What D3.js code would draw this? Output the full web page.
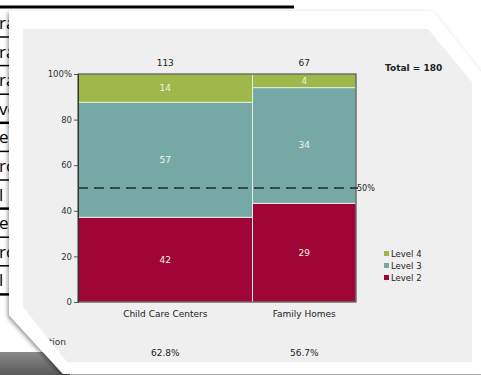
<!DOCTYPE html>
<meta charset="utf-8">
<head>
    <script src="https://d3js.org/d3.v7.min.js"></script>
</head>
<body style="margin:0; background:#fff;">
    <div id="svg_div"></div>
</body>
<script>
    // chart values
    var categories = ["Child Care Centers", "Family Homes"];
    var levels = ["Level 2", "Level 3", "Level 4"];
    var level2 = [42, 29];
    var level3 = [57, 34];
    var level4 = [14, 4];
    var y_ticks = [0, 20, 40, 60, 80, 100];
    var table_bits = ["ra", "ra", "ra", "ve", "ee", "ro", "l", "ee", "ro", "l"];

    var level_colors = {
        "Level 2": "#a00537",
        "Level 3": "#76a8a6",
        "Level 4": "#9cb94a",
    };

    function draw_chart() {
        let W = 481, H = 375;
        let svg = d3.select("#svg_div").append("svg")
            .attr("width", W)
            .attr("height", H)
            .style("font-family", "DejaVu Sans, Verdana, sans-serif");

        let defs = svg.append("defs");
        defs.append("filter").attr("id", "shadow")
            .attr("x", "-10%").attr("y", "-10%").attr("width", "120%").attr("height", "120%")
            .append("feDropShadow")
            .attr("dx", -1).attr("dy", 2).attr("stdDeviation", 2)
            .attr("flood-color", "#000").attr("flood-opacity", 0.45);
        let grad = defs.append("linearGradient").attr("id", "darkgrad")
            .attr("x1", 0).attr("y1", 0).attr("x2", 0).attr("y2", 1);
        grad.append("stop").attr("offset", "0%").attr("stop-color", "#8a8a8a");
        grad.append("stop").attr("offset", "100%").attr("stop-color", "#5a5a5a");

        // the table behind the card
        let bg = svg.append("g");
        bg.append("line").attr("x1", 0).attr("x2", 294).attr("y1", 7).attr("y2", 7)
            .attr("stroke", "#000").attr("stroke-width", 3);
        let row_h = 28.6;
        table_bits.forEach((t, i) => {
            let yb = 37 + i * row_h;
            bg.append("line").attr("x1", 0).attr("x2", 10).attr("y1", yb).attr("y2", yb)
                .attr("stroke", "#000").attr("stroke-width", (i == 3 || i == 6 || i == 9) ? 2.5 : 1.5);
            bg.append("text").attr("x", -1).attr("y", yb - 8)
                .attr("font-size", 17).attr("font-family", "Open Sans, sans-serif")
                .attr("fill", "#000").text(t);
        });
        bg.append("rect").attr("x", 0).attr("y", 352).attr("width", 70).attr("height", 23)
            .attr("fill", "url(#darkgrad)");

        // card
        svg.append("polygon")
            .attr("points", "9,11 433,11 484,76 484,374 63,374 9,315")
            .attr("fill", "#fff")
            .attr("filter", "url(#shadow)");

        let panel_pts = "23,29 428,29 472,82 472,362 67,362 23,307";
        svg.append("polygon").attr("points", panel_pts).attr("fill", "#efefef");
        defs.append("clipPath").attr("id", "panelclip")
            .append("polygon").attr("points", panel_pts);

        let x = d3.scaleLinear().domain([0, 180]).range([78, 356]);
        let y = d3.scaleLinear().domain([0, 100]).range([302, 74]);

        let bars = categories.map((c, i) => {
            let vals = [level2[i], level3[i], level4[i]];
            return { name: c, vals: vals, total: d3.sum(vals) };
        });
        let grand = d3.sum(bars, d => d.total);
        x.domain([0, grand]);

        let chart = svg.append("g");
        let x0 = 0;
        bars.forEach((b) => {
            let bx0 = x(x0), bx1 = x(x0 + b.total);
            let cx = (bx0 + bx1) / 2;
            let cum = 0;
            b.vals.forEach((v, k) => {
                let p0 = cum / b.total * 100, p1 = (cum + v) / b.total * 100;
                chart.append("rect")
                    .attr("x", bx0).attr("width", bx1 - bx0)
                    .attr("y", y(p1)).attr("height", y(p0) - y(p1))
                    .attr("fill", level_colors[levels[k]])
                    .attr("stroke", "#e4eee0").attr("stroke-width", 1);
                chart.append("text")
                    .attr("x", cx).attr("y", (y(p0) + y(p1)) / 2 + 3)
                    .attr("text-anchor", "middle")
                    .attr("font-size", 9).attr("fill", "#f4f4e0")
                    .text(v);
                cum += v;
            });
            // count above bar
            chart.append("text").attr("x", cx).attr("y", 66)
                .attr("text-anchor", "middle").attr("font-size", 9).attr("fill", "#222")
                .text(b.total);
            // category label
            chart.append("text").attr("x", cx).attr("y", 317)
                .attr("text-anchor", "middle").attr("font-size", 9).attr("fill", "#222")
                .text(b.name);
            // share at level 3 or above
            let share = (b.vals[1] + b.vals[2]) / b.total * 100;
            chart.append("text").attr("x", cx).attr("y", 356)
                .attr("text-anchor", "middle").attr("font-size", 9).attr("fill", "#222")
                .text(share.toFixed(1) + "%");
            x0 += b.total;
        });

        // frame
        chart.append("rect").attr("x", x(0)).attr("y", y(100))
            .attr("width", x(grand) - x(0)).attr("height", y(0) - y(100))
            .attr("fill", "none").attr("stroke", "#333").attr("stroke-width", 1);

        // y axis
        let yaxis = chart.append("g").attr("transform", "translate(" + x(0) + ",0)")
            .call(d3.axisLeft(y).tickValues(y_ticks).tickSize(4).tickPadding(2)
                .tickFormat(d => d == 100 ? "100%" : d));
        yaxis.select(".domain").attr("stroke", "#333");
        yaxis.selectAll(".tick line").attr("stroke", "#555");
        yaxis.selectAll("text").attr("font-size", 8.5).attr("fill", "#333")
            .attr("font-family", "DejaVu Sans, Verdana, sans-serif");

        // 50% line
        chart.append("line").attr("x1", x(0)).attr("x2", x(grand) + 2)
            .attr("y1", y(50)).attr("y2", y(50))
            .attr("stroke", "#3b4848").attr("stroke-width", 2)
            .attr("stroke-dasharray", "10,6");
        chart.append("text").attr("x", x(grand) + 1).attr("y", y(50) + 3)
            .attr("font-size", 8).attr("fill", "#222").text("50%");

        chart.append("text").attr("x", 385).attr("y", 71)
            .attr("font-size", 9).attr("font-weight", "bold").attr("fill", "#222")
            .text("Total = " + grand);

        // legend
        let legend = chart.append("g").attr("transform", "translate(384,251)");
        levels.slice().reverse().forEach((l, i) => {
            legend.append("rect").attr("x", 0).attr("y", i * 12)
                .attr("width", 5).attr("height", 5).attr("fill", level_colors[l]);
            legend.append("text").attr("x", 7).attr("y", i * 12 + 6)
                .attr("font-size", 8.5).attr("fill", "#222").text(l);
        });

        // row label cut by the panel corner
        chart.append("text").attr("x", 66).attr("y", 345)
            .attr("text-anchor", "end").attr("font-size", 9).attr("fill", "#333")
            .attr("clip-path", "url(#panelclip)")
            .text("Proportion");
    }

    draw_chart();
</script>
